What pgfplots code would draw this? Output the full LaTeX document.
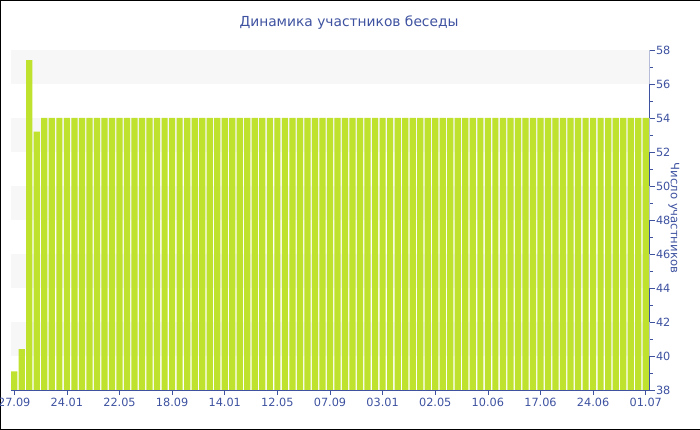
\documentclass[border=0pt]{standalone}
\usepackage{pgfplots}
\pgfplotsset{compat=1.18}
\usepackage{fontspec}
\setmainfont{DejaVu Sans}
\definecolor{axblue}{RGB}{62,82,160}
\definecolor{barcol}{RGB}{190,226,46}
\definecolor{stripe}{RGB}{247,247,247}
\begin{document}
\begin{tikzpicture}[x=1pt,y=1pt]
\useasboundingbox (0,0) rectangle (700,430);
\draw[black,line width=1.2pt] (700,429.4) -- (0.6,429.4) -- (0.6,0.6) -- (700,0.6);
\node[text=axblue,font=\fontsize{13.8}{16}\selectfont] at (349,407) {Динамика участников беседы};
\node[text=axblue,font=\fontsize{11.6}{13}\selectfont,rotate=-90] at (674,212) {Число участников};
\begin{axis}[
  at={(10.5pt,40pt)}, anchor=south west,
  scale only axis, width=639pt, height=340pt,
  xmin=-0.5, xmax=84.5, ymin=38, ymax=58,
  axis x line*=bottom, axis y line*=right,
  axis line style={axblue, line width=0.8pt},
  xtick={0,7,...,84},
  xticklabels={27.09,24.01,22.05,18.09,14.01,12.05,07.09,03.01,02.05,10.06,17.06,24.06,01.07},
  ytick={38,40,...,58}, minor ytick={39,41,...,57},
  tick style={axblue, line width=0.6pt},
  major tick length=5pt, minor tick length=3pt,
  tick align=outside,
  ticklabel style={text=axblue, font=\fontsize{11.3}{13}\selectfont},
  /pgf/number format/assume math mode=true,
  xticklabel style={yshift=0pt},
  yticklabel style={xshift=-2pt},
  ybar, bar width=6.2pt,
  clip=true,
]
\fill[stripe] (axis cs:-0.5,56) rectangle (axis cs:84.5,58);
\fill[stripe] (axis cs:-0.5,52) rectangle (axis cs:84.5,54);
\fill[stripe] (axis cs:-0.5,48) rectangle (axis cs:84.5,50);
\fill[stripe] (axis cs:-0.5,44) rectangle (axis cs:84.5,46);
\fill[stripe] (axis cs:-0.5,40) rectangle (axis cs:84.5,42);
\addplot[fill=barcol, draw=none] coordinates {
(0,39.1) (1,40.4) (2,57.4) (3,53.2) (4,54) (5,54) (6,54) (7,54) (8,54) (9,54)
(10,54) (11,54) (12,54) (13,54) (14,54) (15,54) (16,54) (17,54) (18,54) (19,54)
(20,54) (21,54) (22,54) (23,54) (24,54) (25,54) (26,54) (27,54) (28,54) (29,54)
(30,54) (31,54) (32,54) (33,54) (34,54) (35,54) (36,54) (37,54) (38,54) (39,54)
(40,54) (41,54) (42,54) (43,54) (44,54) (45,54) (46,54) (47,54) (48,54) (49,54)
(50,54) (51,54) (52,54) (53,54) (54,54) (55,54) (56,54) (57,54) (58,54) (59,54)
(60,54) (61,54) (62,54) (63,54) (64,54) (65,54) (66,54) (67,54) (68,54) (69,54)
(70,54) (71,54) (72,54) (73,54) (74,54) (75,54) (76,54) (77,54) (78,54) (79,54)
(80,54) (81,54) (82,54) (83,54) (84,54)
};
\end{axis}
\end{tikzpicture}
\end{document}
